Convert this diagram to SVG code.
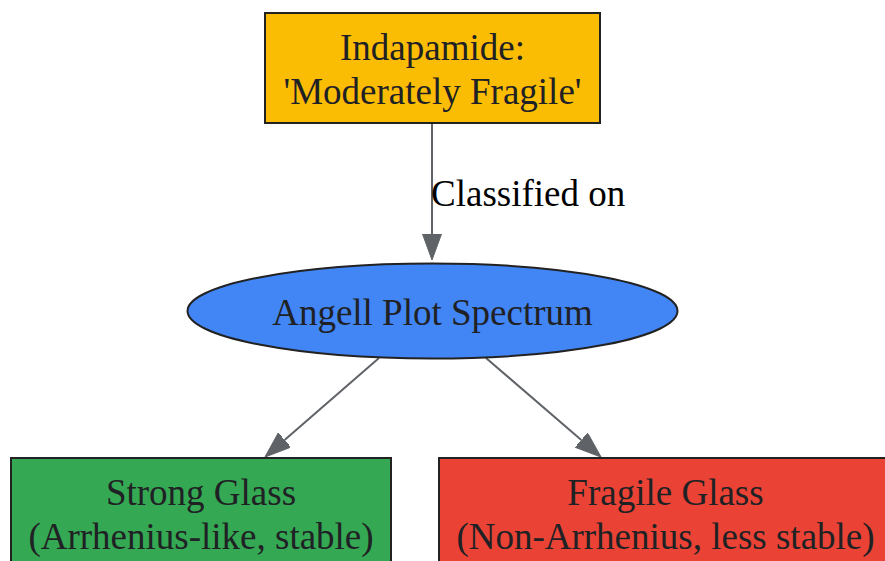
<svg xmlns="http://www.w3.org/2000/svg" width="885" height="561" viewBox="0 0 885 561">
<style>
.node{stroke:#222222;stroke-width:2}
.t{font-family:"Liberation Serif","Times New Roman",serif;font-size:37px;fill:#202124;text-anchor:middle}
.e{stroke:#5f6368;stroke-width:2;fill:none}
.lbl{font-family:"Liberation Serif","Times New Roman",serif;font-size:37px;fill:#000000}
</style>
<defs>
<marker id="ah" markerUnits="userSpaceOnUse" markerWidth="28" markerHeight="20" refX="0" refY="9.5" orient="auto">
<path d="M0,0 L26,9.5 L0,19 z" fill="#5f6368" stroke="#5f6368" stroke-width="1"/>
</marker>
</defs>
<rect width="885" height="561" fill="#ffffff"/>
<g id="edges">
<line class="e" x1="432" y1="123" x2="432" y2="234" marker-end="url(#ah)"/>
<text class="lbl" x="431" y="206">Classified on</text>
<line class="e" x1="379" y1="358" x2="284.6" y2="440" marker-end="url(#ah)"/>
<line class="e" x1="486" y1="358" x2="581.3" y2="440" marker-end="url(#ah)"/>
</g>
<g id="indapamide">
<rect class="node" x="265" y="13" width="335" height="110" fill="#FBBC04"/>
<text class="t" x="432.5" y="60">Indapamide:</text>
<text class="t" x="432.5" y="104">'Moderately Fragile'</text>
</g>
<g id="angell">
<ellipse class="node" cx="432.5" cy="311" rx="245" ry="47.5" fill="#4285F4"/>
<text class="t" x="432.5" y="325">Angell Plot Spectrum</text>
</g>
<g id="strong">
<rect class="node" x="11" y="458" width="380" height="120" fill="#34A853"/>
<text class="t" x="201" y="505">Strong Glass</text>
<text class="t" x="201" y="549">(Arrhenius-like, stable)</text>
</g>
<g id="fragile">
<rect class="node" x="439" y="458" width="455" height="120" fill="#EA4335"/>
<text class="t" x="665.5" y="505">Fragile Glass</text>
<text class="t" x="665.5" y="549">(Non-Arrhenius, less stable)</text>
</g>
</svg>
